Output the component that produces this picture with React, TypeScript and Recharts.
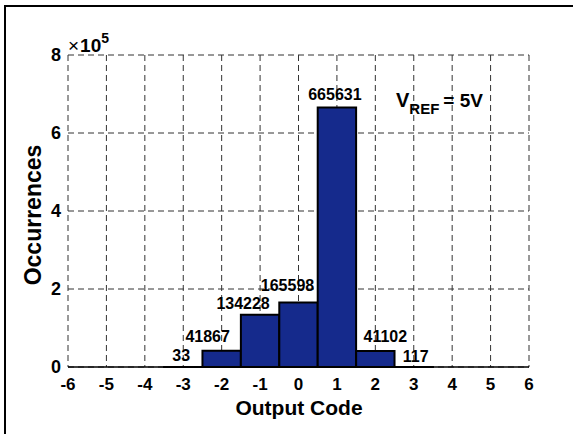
import { BarChart, Bar, XAxis, YAxis, CartesianGrid, LabelList } from 'recharts';

// histogram of output codes, VREF = 5V
const codes = [-3, -2, -1, 0, 1, 2, 3];
const counts = [33, 41867, 134228, 165598, 665631, 41102, 117];
const xTicks = [-6, -5, -4, -3, -2, -1, 0, 1, 2, 3, 4, 5, 6];
const yTicks = [0, 200000, 400000, 600000, 800000];

const data = codes.map((code, i) => ({ code, count: counts[i] }));

const FONT = '"Liberation Sans", Arial, sans-serif';

// small hand nudges for the value labels, like the original annotations
const labelNudge: Record<number, [number, number]> = {
  [-3]: [-2, 1],
  [-2]: [-14, -2],
  [-1]: [-17, 1],
  [0]: [-11, -4],
  [1]: [-2, 0],
  [2]: [10, -2],
  [3]: [2, 2],
};

const ValueLabel = (props: any) => {
  const { x, y, width, value, index } = props;
  const code = codes[index];
  const [dx, dy] = labelNudge[code] ?? [0, 0];
  return (
    <text
      x={x + width / 2 + dx}
      y={y - 7 + dy}
      textAnchor="middle"
      fontFamily={FONT}
      fontWeight="bold"
      fontSize={16}
      fill="#000"
    >
      {value}
    </text>
  );
};

export default function App() {
  return (
    <div
      style={{
        position: 'absolute',
        left: 0,
        top: 0,
        width: 573,
        height: 434,
        overflow: 'hidden',
        background: '#fff',
        fontFamily: FONT,
      }}
    >
      <div
        style={{
          position: 'absolute',
          left: 4,
          top: 5,
          width: 620,
          height: 480,
          border: '2px solid #000',
        }}
      />
      <div style={{ position: 'absolute', left: 0, top: 0 }}>
        <BarChart
          width={573}
          height={434}
          data={data}
          margin={{ top: 55, right: 44, bottom: 0, left: 0 }}
        >
          <CartesianGrid stroke="#333" strokeDasharray="6 4" strokeWidth={1} />
          <XAxis
            dataKey="code"
            type="number"
            domain={[-6, 6]}
            ticks={xTicks}
            interval={0}
            height={67}
            tickSize={0}
            tickMargin={11}
            axisLine={{ stroke: '#000', strokeWidth: 1.5 }}
            tick={{ fill: '#000', fontSize: 17, fontWeight: 'bold', fontFamily: FONT }}
          />
          <YAxis
            type="number"
            domain={[0, 800000]}
            ticks={yTicks}
            interval={0}
            width={68}
            tickSize={0}
            tickMargin={7}
            axisLine={false}
            tickFormatter={(v: number) => String(v / 100000)}
            tick={{ fill: '#000', fontSize: 18, fontWeight: 'bold', fontFamily: FONT }}
          />
          <Bar
            dataKey="count"
            fill="#152a8c"
            stroke="#000"
            strokeWidth={2}
            barSize={38.4}
            isAnimationActive={false}
          >
            <LabelList dataKey="count" content={ValueLabel} />
          </Bar>
        </BarChart>
      </div>
      <svg
        width={573}
        height={434}
        style={{ position: 'absolute', left: 0, top: 0, pointerEvents: 'none' }}
      >
        <text x={68} y={52} fontFamily={FONT} fontSize={19} fill="#000">
          <tspan fontWeight="normal">×</tspan>
          <tspan fontWeight="bold" dx={1}>10</tspan>
          <tspan fontWeight="bold" fontSize={14} dy={-9}>5</tspan>
        </text>
        <text x={396} y={107} fontFamily={FONT} fontWeight="bold" fill="#000" fontSize={20}>
          <tspan>V</tspan>
          <tspan fontSize={15} dy={7}>REF</tspan>
          <tspan fontSize={19} dy={-7} dx={4}>= 5V</tspan>
        </text>
        <text
          x={299}
          y={415}
          textAnchor="middle"
          fontFamily={FONT}
          fontWeight="bold"
          fontSize={21}
          fill="#000"
        >
          Output Code
        </text>
        <text
          x={33}
          y={215}
          textAnchor="middle"
          dominantBaseline="central"
          transform="rotate(-90 33 215)"
          fontFamily={FONT}
          fontWeight="bold"
          fontSize={23}
          fill="#000"
        >
          Occurrences
        </text>
      </svg>
    </div>
  );
}
